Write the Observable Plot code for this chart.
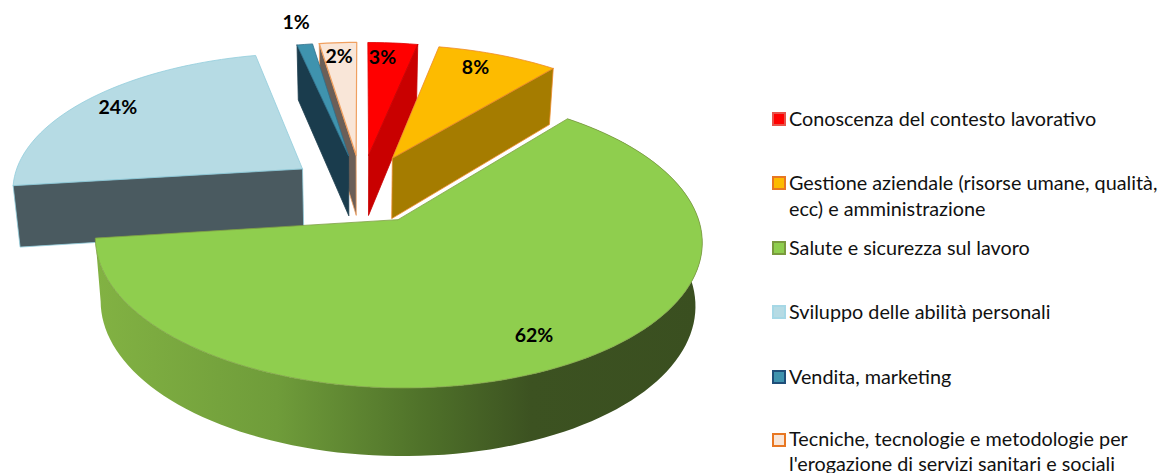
<!DOCTYPE html>
<html><head><meta charset="utf-8">
<script src="https://cdn.jsdelivr.net/npm/d3@7"></script>
<script src="https://cdn.jsdelivr.net/npm/@observablehq/plot@0.6"></script>
<style>
html,body{margin:0;padding:0;background:#fff}
#wrap{position:relative;width:1166px;height:473px;overflow:hidden;font-family:Lato,sans-serif}
#wrap svg{position:absolute;left:0;top:0}
.lg{position:absolute;left:772px;color:#111;font-size:19.8px;line-height:26px;width:394px;white-space:nowrap}
.lg i{position:absolute;left:0;top:7px;width:10px;height:10px;border-width:2px;border-style:solid;display:block}
.lg span{display:block;margin-left:17px}
</style></head><body><div id="wrap"></div>
<script>
const categories = ["Conoscenza del contesto lavorativo","Gestione aziendale (risorse umane, qualità, ecc) e amministrazione","Salute e sicurezza sul lavoro","Sviluppo delle abilità personali","Vendita, marketing","Tecniche, tecnologie e metodologie per l'erogazione di servizi sanitari e sociali"];
const values = [3.2,7.8,62,23.6,1,2.4];
const labels = ["3%","8%","62%","24%","1%","2%"];
const legendLines = [["Conoscenza del contesto lavorativo"],["Gestione aziendale (risorse umane, qualità,","ecc) e amministrazione"],["Salute e sicurezza sul lavoro"],["Sviluppo delle abilità personali"],["Vendita, marketing"],["Tecniche, tecnologie e metodologie per","l'erogazione di servizi sanitari e sociali"]];
const topColors = ["#ff0000","#fdbb00","#8fce4e","#b6dbe4","#3f93ae","#f9e6d8"];
const wallColors = ["#c90000","#a57c00","#5f8a34","#4a5a60","#1a3c4d","#6b5f58"];
const strokeColors = ["#e00000","#ee8a2a","#7f9f45","#92cddc","#1f4e66","#f0a060"];
const legendBorders = ["#e8534a","#e87722","#7a9a3e","#a6d8e6","#1f4e79","#e87722"];
const legendTops = [105,169,234,298,363,426];

// Pie geometry (layout)
const cx=361, cy=188, rX=291.5, rY=136.4, persp=0.135, explode=0.2527;
const depthBase=61.5, depthSlope=5.4, bottomShrink=0.98;
const labelRadius=[0.85,0.845,0.82,0.86,1.23,0.86];
const labelTurn=[-1.9,-2.2,0,0,0,-0.3];
const rad=d=>d*Math.PI/180;
function proj(X,Y,down){
  const den=1-persp*Y;
  const x=rX*X/den, y=cy+rY*Y/den;
  if(!down) return {x:cx+x,y};
  return {x:cx+x*bottomShrink,y:y+depthBase+depthSlope*Y};
}
const total=d3.sum(values);
let acc=0;
const slices=values.map((v,i)=>{
  const a0=acc/total*360; acc+=v; const a1=acc/total*360; const mid=(a0+a1)/2;
  return {i,a0,a1,mid,ox:explode*Math.sin(rad(mid)),oy:-explode*Math.cos(rad(mid))};
});
function rim(s,a){return [s.ox+Math.sin(rad(a)),s.oy-Math.cos(rad(a))];}
function arcPts(s,down,rev){
  const n=Math.max(2,Math.ceil((s.a1-s.a0)/2)),pts=[];
  for(let k=0;k<=n;k++){const a=s.a0+(s.a1-s.a0)*k/n;const [X,Y]=rim(s,a);pts.push(proj(X,Y,down));}
  return rev?pts.reverse():pts;
}
const topFace=s=>{const c=proj(s.ox,s.oy,false);return [c,...arcPts(s,false),c];};
const radialWall=(s,a)=>{const [X,Y]=rim(s,a);return [proj(X,Y,false),proj(X,Y,true),proj(s.ox,s.oy,true),proj(s.ox,s.oy,false),proj(X,Y,false)];};
const outerWall=s=>{const p=[...arcPts(s,false),...arcPts(s,true,true)];return [...p,p[0]];};
const face=(pts,fill,stroke,w=0.8)=>Plot.line(pts,{x:"x",y:"y",fill,stroke,strokeWidth:w,strokeLinejoin:"round"});
const [red,org,grn,blu,dbl,pch]=slices;
const labelPoint=s=>{const a=s.mid+labelTurn[s.i],f=labelRadius[s.i];return proj(s.ox+f*Math.sin(rad(a)),s.oy-f*Math.cos(rad(a)));};

const marks=[
  // sky-blue slice, back left
  face(topFace(blu),topColors[3],strokeColors[3]),
  face(radialWall(blu,blu.a0),wallColors[3],strokeColors[3]),
  // peach slice
  face(radialWall(pch,pch.a0),wallColors[5],strokeColors[5]),
  face(topFace(pch),topColors[5],strokeColors[5],1.2),
  // dark-blue slice
  face(radialWall(dbl,dbl.a0),wallColors[4],wallColors[4]),
  face(topFace(dbl),topColors[4],"#2f6f8a"),
  // red slice
  face(topFace(red),topColors[0],strokeColors[0]),
  face(radialWall(red,red.a1),wallColors[0],wallColors[0]),
  // orange slice
  face(topFace(org),topColors[1],strokeColors[1]),
  face(radialWall(org,org.a1),wallColors[1],strokeColors[1]),
  // green slice, front
  face(outerWall(grn),"url(#greenWall)","none",0),
  face(topFace(grn),topColors[2],strokeColors[2]),
  Plot.text(slices,{
    x:s=>labelPoint(s).x,y:s=>labelPoint(s).y,
    text:s=>labels[s.i],fontSize:19.5,fontWeight:700,fill:"#000",fontFamily:"Lato, sans-serif"
  })
];
const plot=Plot.plot({width:1166,height:473,margin:0,
  x:{domain:[0,1166],range:[0,1166],axis:null},
  y:{domain:[0,473],range:[0,473],axis:null},
  style:{background:"transparent"},marks});
const ns="http://www.w3.org/2000/svg";
const defs=document.createElementNS(ns,"defs");
const g=document.createElementNS(ns,"linearGradient");
g.setAttribute("id","greenWall");g.setAttribute("gradientUnits","userSpaceOnUse");
g.setAttribute("x1",95);g.setAttribute("x2",700);g.setAttribute("y1",0);g.setAttribute("y2",0);
[[0,"#82b243"],[0.3,"#6f9c3a"],[0.55,"#4e7029"],[0.72,"#3c5221"],[1,"#3a4f20"]].forEach(([o,c])=>{
  const st=document.createElementNS(ns,"stop");st.setAttribute("offset",o);st.setAttribute("stop-color",c);g.appendChild(st);});
defs.appendChild(g);plot.insertBefore(defs,plot.firstChild);
const wrap=document.getElementById("wrap");
wrap.appendChild(plot);
legendLines.forEach((lines,i)=>{
  const d=document.createElement("div");d.className="lg";d.style.top=legendTops[i]+"px";
  if(lines.length>1&&i===5)d.style.lineHeight="25px";
  const sw=document.createElement("i");sw.style.background=topColors[i];sw.style.borderColor=legendBorders[i];
  d.appendChild(sw);
  lines.forEach(t=>{const s=document.createElement("span");s.textContent=t;d.appendChild(s);});
  wrap.appendChild(d);
});
</script></body></html>
